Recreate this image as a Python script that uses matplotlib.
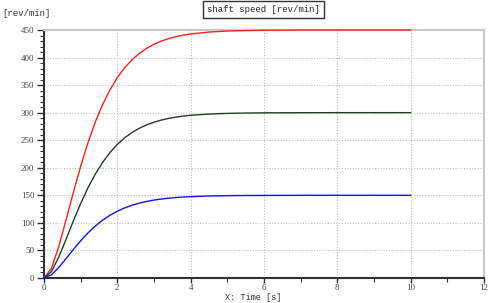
import matplotlib
matplotlib.use("Agg")
import matplotlib.pyplot as plt
from matplotlib.ticker import MultipleLocator

# Data (time in s, speed in rev/min)
time = [0, 0.2, 0.4, 0.6, 0.8, 1.0, 1.2, 1.4, 1.6, 1.8, 2.0, 2.2, 2.4, 2.6, 2.8,
        3.0, 3.2, 3.4, 3.6, 3.8, 4.0, 4.5, 5.0, 5.5, 6.0, 7.0, 8.0, 9.0, 10.0]
speed_red = [0, 17.1, 56.3, 104.9, 155.1, 202.6, 245.7, 283.1, 314.9, 341.6, 363.6,
             381.6, 396.0, 407.6, 416.8, 424.1, 429.9, 434.4, 437.9, 440.7, 442.8,
             446.3, 448.1, 449.0, 449.5, 449.9, 450.0, 450.0, 450.0]
speed_green = [0, 11.4, 37.5, 69.9, 103.4, 135.1, 163.8, 188.7, 209.9, 227.7, 242.4,
               254.4, 264.0, 271.7, 277.9, 282.7, 286.6, 289.6, 291.9, 293.8, 295.2,
               297.5, 298.7, 299.3, 299.7, 299.9, 300.0, 300.0, 300.0]
speed_blue = [0, 5.7, 18.8, 35.0, 51.7, 67.5, 81.9, 94.4, 105.0, 113.9, 121.2,
              127.2, 132.0, 135.9, 138.9, 141.4, 143.3, 144.8, 146.0, 146.9, 147.6,
              148.8, 149.4, 149.7, 149.8, 150.0, 150.0, 150.0, 150.0]

xticks = [0, 2, 4, 6, 8, 10, 12]
yticks = [0, 50, 100, 150, 200, 250, 300, 350, 400, 450]

fig = plt.figure(figsize=(4.91, 3.03), dpi=100)
ax = fig.add_axes([44/491, 25/303, 440/491, 248/303])

ax.plot(time, speed_red, color="#ff2020", lw=1.0, clip_on=False, zorder=5)
ax.plot(time, speed_green, color="#1f3f1f", lw=1.0, clip_on=False, zorder=5)
ax.plot(time, speed_blue, color="#1010ff", lw=1.0, clip_on=False, zorder=5)

ax.set_xlim(0, 12)
ax.set_ylim(0, 450)
ax.set_xticks(xticks)
ax.set_yticks(yticks)
ax.xaxis.set_minor_locator(MultipleLocator(1))
ax.yaxis.set_minor_locator(MultipleLocator(10))
ax.grid(True, which="major", linestyle=(0, (1, 1.5)), color="#c0c0c0", lw=0.8)

for s in ("left", "bottom"):
    ax.spines[s].set_color("#303030")
    ax.spines[s].set_linewidth(1.5)
for s in ("top", "right"):
    ax.spines[s].set_color("#c8c8c8")
    ax.spines[s].set_linewidth(1.5)

ax.tick_params(axis="y", which="major", length=5, width=1, color="#303030",
               labelsize=6.5, labelcolor="#444444", pad=2)
ax.tick_params(axis="x", which="major", length=3.5, width=1, color="#303030",
               labelsize=6.5, labelcolor="#444444", pad=0.5)
ax.tick_params(which="minor", length=3, width=0.8, color="#303030")
for lab in ax.get_xticklabels() + ax.get_yticklabels():
    lab.set_fontfamily("Liberation Serif")

fig.text(2/491, 1 - 13/303, "[rev/min]", fontsize=6.5, family="Liberation Mono",
         color="#333333", ha="left", va="center")
fig.text(263/491, 1 - 9.5/303, "shaft speed [rev/min]", fontsize=6.5,
         family="Liberation Mono", color="#222222", ha="center", va="center",
         bbox=dict(boxstyle="square,pad=0.45", fc="white", ec="#333333", lw=1))
fig.text(253/491, 1 - 297.5/303, "X: Time [s]", fontsize=6.2, family="Liberation Mono",
         color="#333333", ha="center", va="center")

fig.savefig("out.png", dpi=100)
